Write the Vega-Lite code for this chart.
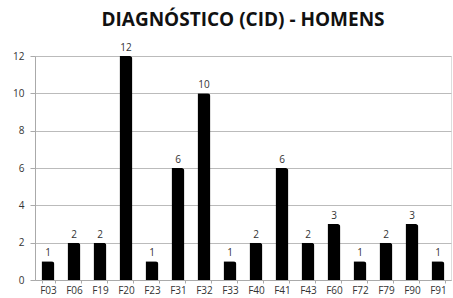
{
  "$schema": "https://vega.github.io/schema/vega-lite/v6.json",
  "width": 416,
  "height": 224,
  "autosize": {"type": "none"},
  "padding": {"left": 35, "top": 56, "right": 2, "bottom": 18},
  "background": "white",
  "title": {
    "text": "DIAGNÓSTICO (CID) - HOMENS",
    "font": "Open Sans",
    "fontSize": 19,
    "fontWeight": "bold",
    "color": "#111111",
    "anchor": "middle",
    "offset": 13
  },
  "data": {
    "values": [
      {"cid": "F03", "n": 1},
      {"cid": "F06", "n": 2},
      {"cid": "F19", "n": 2},
      {"cid": "F20", "n": 12},
      {"cid": "F23", "n": 1},
      {"cid": "F31", "n": 6},
      {"cid": "F32", "n": 10},
      {"cid": "F33", "n": 1},
      {"cid": "F40", "n": 2},
      {"cid": "F41", "n": 6},
      {"cid": "F43", "n": 2},
      {"cid": "F60", "n": 3},
      {"cid": "F72", "n": 1},
      {"cid": "F79", "n": 2},
      {"cid": "F90", "n": 3},
      {"cid": "F91", "n": 1}
    ]
  },
  "encoding": {
    "x": {
      "field": "cid",
      "type": "nominal",
      "sort": null,
      "scale": {"paddingInner": 0.5, "paddingOuter": 0.25},
      "axis": {
        "title": null,
        "labelAngle": 0,
        "labelFont": "Open Sans",
        "labelFontSize": 10,
        "labelColor": "#333333",
        "domainColor": "#aaaaaa",
        "tickColor": "#aaaaaa",
        "tickBand": "extent",
        "tickSize": 3,
        "labelPadding": 2
      }
    },
    "y": {
      "field": "n",
      "type": "quantitative",
      "scale": {"domain": [0, 12]},
      "axis": {
        "title": null,
        "values": [0, 2, 4, 6, 8, 10, 12],
        "labelFont": "Open Sans",
        "labelFontSize": 10,
        "labelColor": "#333333",
        "gridColor": "#bbbbbb",
        "domainColor": "#aaaaaa",
        "tickColor": "#aaaaaa",
        "labelPadding": 6
      }
    }
  },
  "layer": [
    {
      "mark": {"type": "bar", "color": "#000000", "cornerRadiusTopRight": 3}
    },
    {
      "mark": {"type": "text", "dy": -8, "font": "Open Sans", "fontSize": 10, "color": "#333333"},
      "encoding": {"text": {"field": "n", "type": "quantitative"}}
    }
  ]
}
